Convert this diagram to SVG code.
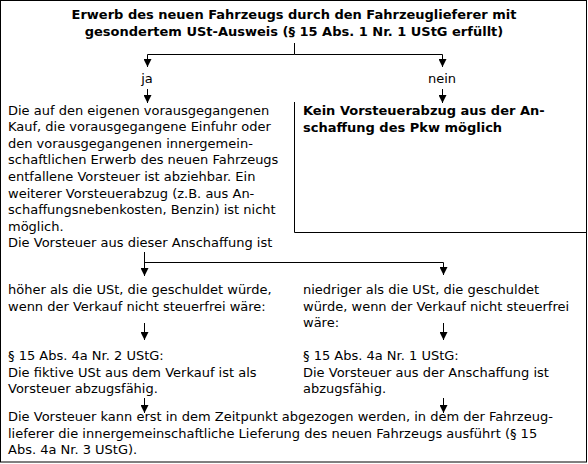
<svg xmlns="http://www.w3.org/2000/svg" width="588" height="464" viewBox="0 0 588 464">
<defs>
<style>
text{font-family:"DejaVu Sans",Verdana,sans-serif;font-size:13px;fill:#000}
.b{font-weight:bold}
.c{text-anchor:middle}
.ln{stroke:#000;stroke-width:1;fill:none}
</style>
<marker id="ah" viewBox="0 0 8 8" refX="8" refY="4" markerWidth="8" markerHeight="8" markerUnits="userSpaceOnUse" orient="auto">
<path d="M0,0 L8,4 L0,8 Z" fill="#000"/>
</marker>
</defs>
<rect x="0" y="0" width="588" height="464" fill="#fff"/>
<rect id="frame" x="0.5" y="0.5" width="586" height="461.5" class="ln"/>
<g id="title">
<text class="b c" x="294" y="19">Erwerb des neuen Fahrzeugs durch den Fahrzeuglieferer mit</text>
<text class="b c" x="294" y="36">gesondertem USt-Ausweis (§ 15 Abs. 1 Nr. 1 UStG erfüllt)</text>
</g>
<g id="ja"><text class="c" x="147" y="83">ja</text></g>
<g id="nein"><text class="c" x="442" y="83">nein</text></g>
<g id="abziehbar">
<text x="8" y="114.5">Die auf den eigenen vorausgegangenen</text>
<text x="8" y="131.1">Kauf, die vorausgegangene Einfuhr oder</text>
<text x="8" y="147.7">den vorausgegangenen innergemein-</text>
<text x="8" y="164.3">schaftlichen Erwerb des neuen Fahrzeugs</text>
<text x="8" y="180.9">entfallene Vorsteuer ist abziehbar. Ein</text>
<text x="8" y="197.5">weiterer Vorsteuerabzug (z.B. aus An-</text>
<text x="8" y="214.1">schaffungsnebenkosten, Benzin) ist nicht</text>
<text x="8" y="230.7">möglich.</text>
<text x="8" y="247.3">Die Vorsteuer aus dieser Anschaffung ist</text>
</g>
<g id="kein">
<path class="ln" d="M294.5,102 V232.5 H586.5"/>
<text class="b" x="303" y="115">Kein Vorsteuerabzug aus der An-</text>
<text class="b" x="303" y="131.5">schaffung des Pkw möglich</text>
</g>
<g id="hoeher">
<text x="8" y="294">höher als die USt, die geschuldet würde,</text>
<text x="8" y="311">wenn der Verkauf nicht steuerfrei wäre:</text>
</g>
<g id="niedriger">
<text x="303" y="294">niedriger als die USt, die geschuldet</text>
<text x="303" y="311">würde, wenn der Verkauf nicht steuerfrei</text>
<text x="303" y="327">wäre:</text>
</g>
<g id="nr2">
<text x="8" y="360">§ 15 Abs. 4a Nr. 2 UStG:</text>
<text x="8" y="376.7">Die fiktive USt aus dem Verkauf ist als</text>
<text x="8" y="393.4">Vorsteuer abzugsfähig.</text>
</g>
<g id="nr1">
<text x="303" y="360">§ 15 Abs. 4a Nr. 1 UStG:</text>
<text x="303" y="376.7">Die Vorsteuer aus der Anschaffung ist</text>
<text x="303" y="393.4">abzugsfähig.</text>
</g>
<g id="zeitpunkt">
<text x="8" y="421">Die Vorsteuer kann erst in dem Zeitpunkt abgezogen werden, in dem der Fahrzeug-</text>
<text x="8" y="437.6">lieferer die innergemeinschaftliche Lieferung des neuen Fahrzeugs ausführt (§ 15</text>
<text x="8" y="454.2">Abs. 4a Nr. 3 UStG).</text>
</g>
<g id="connectors">
<path class="ln" d="M294.5,43 V54.5 H147.5"/>
<path class="ln" d="M294.5,54.5 H442.5"/>
<path class="ln" d="M147.5,54.5 V67" marker-end="url(#ah)"/>
<path class="ln" d="M442.5,54.5 V67" marker-end="url(#ah)"/>
<path class="ln" d="M147.5,89 V103" marker-end="url(#ah)"/>
<path class="ln" d="M442.5,89 V103" marker-end="url(#ah)"/>
<path class="ln" d="M144.5,252 V276" marker-end="url(#ah)"/>
<path class="ln" d="M144.5,262.5 H443.5 V275" marker-end="url(#ah)"/>
<path class="ln" d="M144.5,323 V340" marker-end="url(#ah)"/>
<path class="ln" d="M443.5,323 V340" marker-end="url(#ah)"/>
<path class="ln" d="M144.5,398 V413" marker-end="url(#ah)"/>
<path class="ln" d="M443.5,398 V413" marker-end="url(#ah)"/>
</g>
</svg>
